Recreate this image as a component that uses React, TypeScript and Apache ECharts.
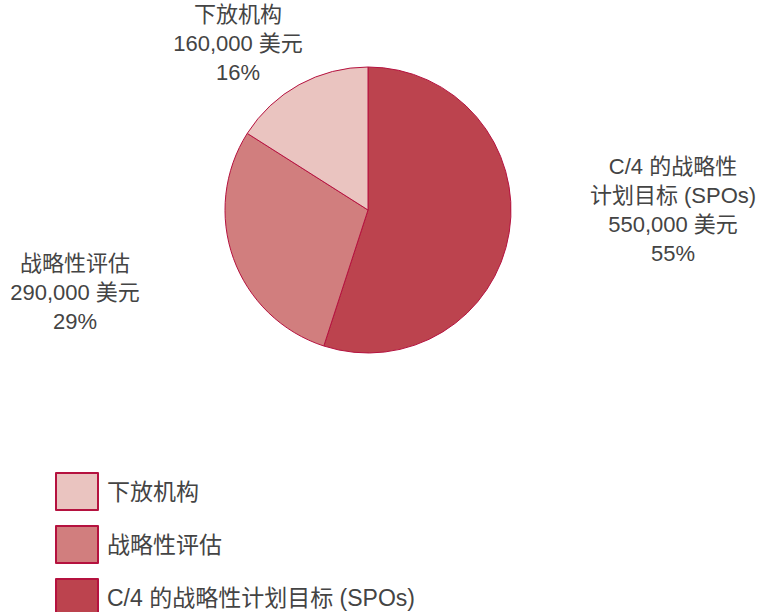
import React, { useEffect, useRef } from "react";
import * as echarts from "echarts";

const categories = ["C/4 的战略性计划目标 (SPOs)", "战略性评估", "下放机构"];
const labelNames = ["C/4 的战略性\n计划目标 (SPOs)", "战略性评估", "下放机构"];
const values = [550000, 290000, 160000];
const percents = ["55%", "29%", "16%"];
const amountLabels = ["550,000 美元", "290,000 美元", "160,000 美元"];
const legendOrder = ["下放机构", "战略性评估", "C/4 的战略性计划目标 (SPOs)"];

const colors = ["#BC434E", "#D17E7E", "#EAC4C0"];
const borderColor = "#B5123F";
const labelCenters: [number, number][] = [
  [673, 210],
  [75, 292],
  [238, 43],
];

export default function App() {
  const ref = useRef<HTMLDivElement>(null);
  useEffect(() => {
    if (!ref.current) return;
    const chart = echarts.init(ref.current, undefined, { renderer: "svg" });
    const font = "'Liberation Sans', 'Noto Sans CJK SC', sans-serif";
    chart.setOption({
      animation: false,
      backgroundColor: "#ffffff",
      legend: {
        orient: "vertical",
        left: 55,
        top: 472,
        height: 160,
        padding: 0,
        itemWidth: 42,
        itemHeight: 37,
        itemGap: 14,
        data: legendOrder,
        textStyle: { fontSize: 23, color: "#444", fontFamily: font, padding: [0, 0, 0, 4] },
        icon: "rect",
        selectedMode: false,
      },
      series: [
        {
          type: "pie",
          center: [368, 210],
          radius: 143,
          startAngle: 90,
          clockwise: true,
          data: categories.map((c, i) => ({
            name: c,
            value: values[i],
            itemStyle: { color: colors[i], borderColor, borderWidth: 1 },
            label: {
              formatter: `${labelNames[i]}\n${amountLabels[i]}\n${percents[i]}`,
            },
          })),
          label: {
            show: true,
            position: "outside",
            fontSize: 22,
            lineHeight: 29,
            color: "#444",
            fontFamily: font,
            align: "center",
          },
          labelLine: { show: false },
          labelLayout: (params: any) => {
            const [x, y] = labelCenters[params.dataIndex];
            return { x, y, align: "center", verticalAlign: "middle" };
          },
        },
      ],
    });
    return () => chart.dispose();
  }, []);
  return (
    <div
      ref={ref}
      style={{ position: "absolute", left: 0, top: 0, width: 760, height: 612 }}
    />
  );
}
